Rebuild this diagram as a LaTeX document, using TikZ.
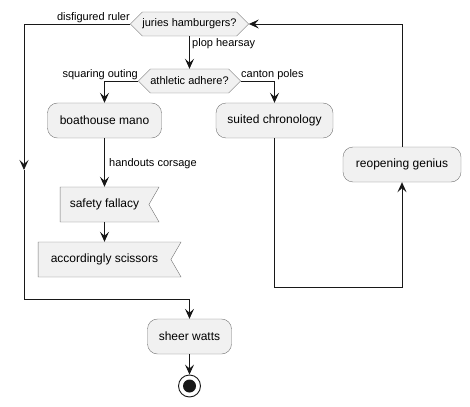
\documentclass[tikz,border=0pt]{standalone}
\usepackage{fontspec}
\setmainfont{Liberation Sans}
\usetikzlibrary{arrows.meta,shapes.symbols}
\definecolor{actfill}{HTML}{F1F1F1}
\definecolor{actline}{HTML}{181818}

\begin{document}
\begin{tikzpicture}[x=1pt,y=-1pt,>={Stealth[length=10pt,width=9pt,inset=4pt]},
  act/.style={draw=actline!60,fill=actfill,rounded corners=10pt,minimum height=35pt,inner sep=0pt,font=\fontsize{12}{14}\selectfont},
  cond/.style={signal,signal to=west and east,signal pointer angle=90,draw=actline!60,fill=actfill,minimum height=24pt,inner sep=0pt,font=\fontsize{11}{13}\selectfont},
  flag/.style={signal,signal from=east,signal to=nowhere,signal pointer angle=120,draw=actline!60,fill=actfill,minimum height=35pt,inner sep=0pt,font=\fontsize{12}{14}\selectfont},
  lbl/.style={inner sep=0pt,font=\fontsize{11}{13}\selectfont},
  flow/.style={draw=actline,line width=0.9pt}]
  \useasboundingbox (0,0) rectangle (470,406);
  % conditions
  \node[cond,minimum width=117pt] (jh) at (189.5,24) {juries hamburgers?};
  \node[cond,minimum width=100pt] (aa) at (189.5,81) {athletic adhere?};
  % activities
  \node[act,minimum width=114pt] (bm) at (104.5,120.5) {boathouse mano};
  \node[act,minimum width=117pt] (sc) at (274.5,120.5) {suited chronology};
  \node[act,minimum width=118pt] (rg) at (402,164.5) {reopening genius};
  \node[flag,minimum width=99pt] (sf) at (104.5,204.5) {safety fallacy};
  \node[flag,minimum width=143pt] (as) at (104.5,259.5) {accordingly scissors};
  \node[act,minimum width=84pt] (sw) at (189.5,336.5) {sheer watts};
  % stop
  \node[circle,draw=actline,line width=0.9pt,fill=white,minimum size=22pt,inner sep=0pt] (stop) at (189.5,386) {};
  \fill[actline] (stop.center) circle (6.5pt);
  % labels
  \node[lbl,anchor=east] (ldis) at (130,18) {disfigured ruler};
  \node[lbl,anchor=west] (lplop) at (192,44) {plop hearsay};
  \node[lbl,anchor=east] (lsq) at (138,75) {squaring outing};
  \node[lbl,anchor=west] (lcan) at (241,75) {canton poles};
  \node[lbl,anchor=west] (lhand) at (109,164) {handouts corsage};
  % connectors
  \coordinate (lmid) at (24,170);
  \coordinate (lbot) at (24,299);
  \coordinate (rbot) at (402,287);
  \draw[flow,->] (jh.west) -| (lmid);
  \draw[flow,->] (lmid) -- (lbot) -| (sw.north);
  \draw[flow,->] (jh.south) -- (aa.north);
  \draw[flow,->] (aa.west) -| (bm.north);
  \draw[flow,->] (aa.east) -| (sc.north);
  \draw[flow,->] (bm.south) -- (sf.north);
  \draw[flow,->] (sf.south) -- (as.north);
  \draw[flow,->] (sc.south) |- (rbot) -- (rg.south);
  \draw[flow,->] (rg.north) |- (jh.east);
  \draw[flow,->] (sw.south) -- (stop.north);
\end{tikzpicture}
\end{document}
